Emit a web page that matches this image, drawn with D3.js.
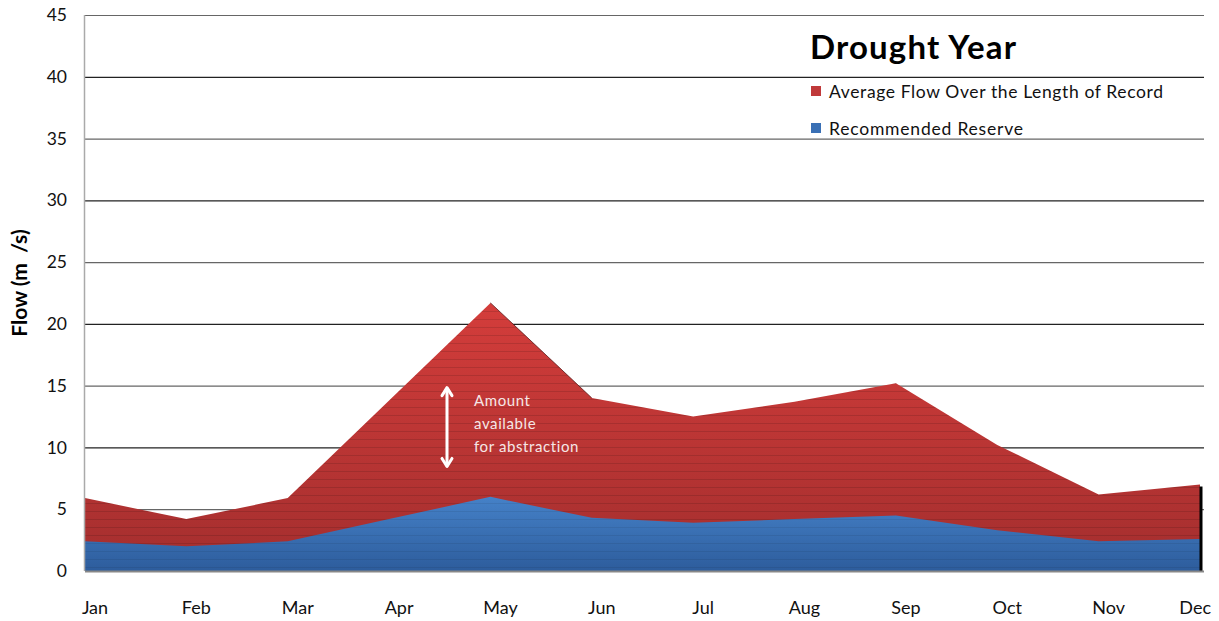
<!DOCTYPE html>
<html>
<head>
<meta charset="utf-8">
<script src="https://cdn.jsdelivr.net/npm/d3@7"></script>
<style>
body { margin: 0; background: #fff; }
svg text { font-family: Lato, "Open Sans", sans-serif; }
</style>
</head>
<body>
<svg id="chart" width="1219" height="621"></svg>
<script>
var months = ["Jan", "Feb", "Mar", "Apr", "May", "Jun", "Jul", "Aug", "Sep", "Oct", "Nov", "Dec"];
var avgFlow = [5.9, 4.2, 5.9, 13.8, 21.7, 14.0, 12.5, 13.7, 15.2, 10.2, 6.2, 7.0];
var reserve = [2.4, 2.0, 2.4, 4.2, 6.0, 4.3, 3.9, 4.2, 4.5, 3.3, 2.4, 2.6];
var yTicks = [0, 5, 10, 15, 20, 25, 30, 35, 40, 45];

var svg = d3.select("#chart");
var margin = {left: 85, right: 17, top: 15, bottom: 50};
var width = 1219 - margin.left - margin.right,
    height = 621 - margin.top - margin.bottom;

var x = d3.scalePoint().domain(months).range([0, width - 2]);
var y = d3.scaleLinear().domain([0, 45]).range([height, 0]);

var defs = svg.append("defs");
var redGrad = defs.append("linearGradient").attr("id", "redGrad")
    .attr("x1", 0).attr("y1", 0).attr("x2", 0).attr("y2", 1);
redGrad.append("stop").attr("offset", "0%").attr("stop-color", "#d43d3b");
redGrad.append("stop").attr("offset", "100%").attr("stop-color", "#a32e2e");
var blueGrad = defs.append("linearGradient").attr("id", "blueGrad")
    .attr("x1", 0).attr("y1", 0).attr("x2", 0).attr("y2", 1);
blueGrad.append("stop").attr("offset", "0%").attr("stop-color", "#4581c8");
blueGrad.append("stop").attr("offset", "100%").attr("stop-color", "#2d5c9c");

// faint horizontal stripes over the fills
var stripes = defs.append("pattern").attr("id", "stripes")
    .attr("patternUnits", "userSpaceOnUse").attr("width", 10).attr("height", 8);
stripes.append("rect").attr("width", 10).attr("height", 1)
    .attr("fill", "#000").attr("opacity", 0.12);

var g = svg.append("g").attr("transform", "translate(" + margin.left + "," + margin.top + ")");

// gridlines
g.append("g").selectAll("line").data(yTicks.filter(function (d) { return d > 0; })).enter()
    .append("line")
    .attr("x1", 0).attr("x2", width + 2)
    .attr("y1", function (d) { return y(d) + 0.5; })
    .attr("y2", function (d) { return y(d) + 0.5; })
    .attr("stroke", function (d) { return d % 10 == 0 ? "#222" : "#666"; })
    .attr("stroke-width", 1.2);

var areaRed = d3.area()
    .x(function (d, i) { return x(months[i]); })
    .y0(height)
    .y1(function (d) { return y(d); });

g.append("path").datum(avgFlow).attr("d", areaRed).attr("fill", "url(#redGrad)");
g.append("path").datum(avgFlow).attr("d", areaRed).attr("fill", "url(#stripes)");
// thin dark edge on the falling side of the peak
g.append("path").datum(avgFlow.slice(4, 6))
    .attr("d", d3.line().x(function (d, i) { return x(months[i + 4]); }).y(function (d) { return y(d); }))
    .attr("fill", "none").attr("stroke", "#5a1a1a").attr("stroke-width", 0.8);

g.append("path").datum(reserve).attr("d", areaRed).attr("fill", "url(#blueGrad)");
g.append("path").datum(reserve).attr("d", areaRed).attr("fill", "url(#stripes)").attr("opacity", 0.6);

// black edge at December
g.append("line")
    .attr("x1", x("Dec") + 1).attr("x2", x("Dec") + 1)
    .attr("y1", y(avgFlow[11]) + 2).attr("y2", height)
    .attr("stroke", "#000").attr("stroke-width", 3);

// axes lines
g.append("line").attr("x1", -0.5).attr("x2", -0.5).attr("y1", 0).attr("y2", height)
    .attr("stroke", "#aaa").attr("stroke-width", 1.5);
g.append("line").attr("x1", 0).attr("x2", width + 2).attr("y1", height + 0.5).attr("y2", height + 0.5)
    .attr("stroke", "#888").attr("stroke-width", 2);

// y tick labels
g.append("g").selectAll("text").data(yTicks).enter().append("text")
    .attr("x", -18).attr("y", function (d) { return y(d); })
    .attr("dy", "0.35em").attr("text-anchor", "end")
    .attr("font-size", 17.5).attr("fill", "#111")
    .text(function (d) { return d; });

// x labels
g.append("g").selectAll("text").data(months).enter().append("text")
    .attr("x", function (d, i) { return i == 11 ? width + 9 : x(d) + 10; })
    .attr("y", height + 43)
    .attr("text-anchor", function (d, i) { return i == 11 ? "end" : "middle"; })
    .attr("font-size", 18).attr("fill", "#111")
    .text(function (d) { return d; });

// y axis title
svg.append("text")
    .attr("transform", "translate(27,283) rotate(-90)")
    .attr("text-anchor", "middle")
    .attr("font-size", 21).attr("font-weight", "bold")
    .attr("xml:space", "preserve")
    .text("Flow (m  /s)");

// title and legend
svg.append("text").attr("x", 810).attr("y", 59)
    .attr("font-size", 33).attr("font-weight", "bold")
    .attr("textLength", 206).attr("lengthAdjust", "spacing")
    .text("Drought Year");
var legend = [
    {label: "Average Flow Over the Length of Record", color: "#c0393a", y: 92, len: 334},
    {label: "Recommended Reserve", color: "#3a70b5", y: 129, len: 194}
];
var lg = svg.append("g").selectAll("g").data(legend).enter().append("g");
lg.append("rect").attr("x", 811).attr("y", function (d) { return d.y - 6; })
    .attr("width", 10).attr("height", 10).attr("fill", function (d) { return d.color; });
lg.append("text").attr("x", 829).attr("y", function (d) { return d.y; })
    .attr("dy", "0.35em").attr("font-size", 17.5).attr("fill", "#111")
    .attr("textLength", function (d) { return d.len; }).attr("lengthAdjust", "spacing")
    .text(function (d) { return d.label; });

// annotation double arrow
var ax = 447 - margin.left, ay1 = y(15) + 2, ay2 = y(8.3) - 2;
var arrow = g.append("g").attr("stroke", "#fff").attr("stroke-width", 3)
    .attr("fill", "none").attr("stroke-linecap", "round").attr("stroke-linejoin", "round");
arrow.append("line").attr("x1", ax).attr("x2", ax).attr("y1", ay1 + 1).attr("y2", ay2 - 1);
arrow.append("path").attr("d", "M" + (ax - 5) + "," + (ay1 + 8) + "L" + ax + "," + ay1 + "L" + (ax + 5) + "," + (ay1 + 8));
arrow.append("path").attr("d", "M" + (ax - 5) + "," + (ay2 - 8) + "L" + ax + "," + ay2 + "L" + (ax + 5) + "," + (ay2 - 8));

var note = ["Amount", "available", "for abstraction"];
svg.append("g").selectAll("text").data(note).enter().append("text")
    .attr("x", 474).attr("y", function (d, i) { return 406 + i * 23; })
    .attr("font-size", 15).attr("letter-spacing", 0.6).attr("fill", "#f6e6e6")
    .text(function (d) { return d; });
</script>
</body>
</html>
